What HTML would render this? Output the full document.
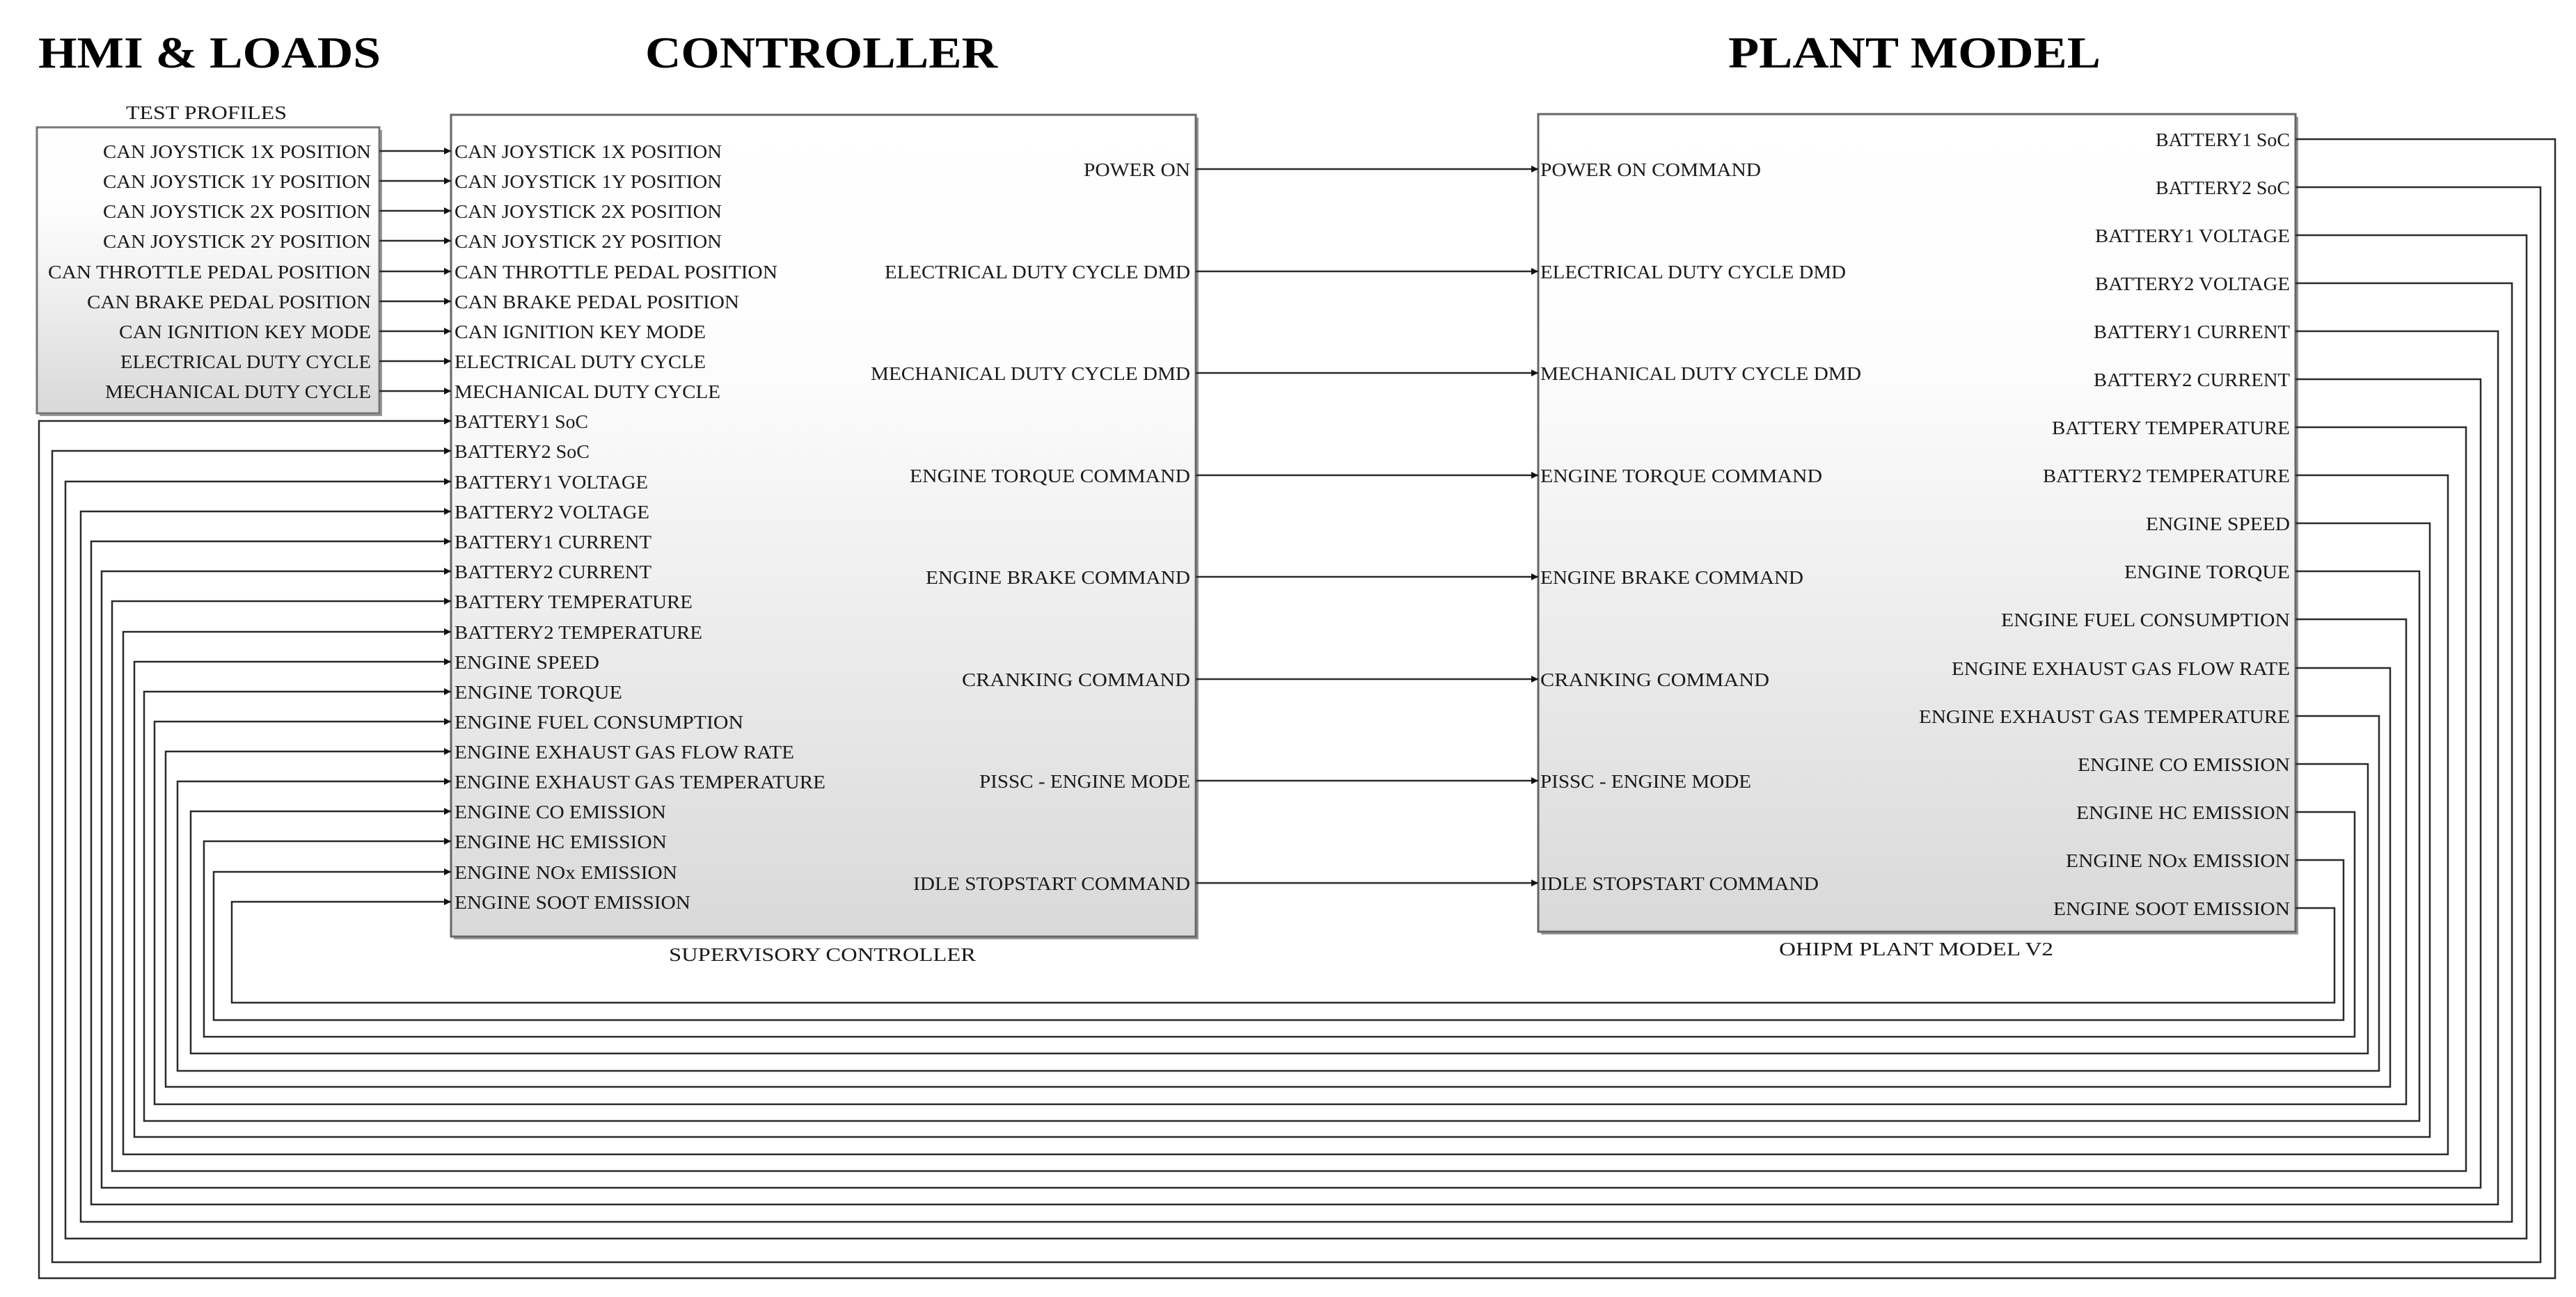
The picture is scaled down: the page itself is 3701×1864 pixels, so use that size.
<!DOCTYPE html>
<html><head><meta charset="utf-8"><style>
html,body{margin:0;padding:0;background:#fff;}
svg{display:block;}
text{font-family:"Liberation Serif",serif;fill:#1a1a1a;}
.l{font-size:27px;}
.t{font-size:64px;font-weight:bold;fill:#000;}
</style></head><body>
<svg width="3701" height="1864" viewBox="0 0 3701 1864" xmlns="http://www.w3.org/2000/svg">
<defs>
<linearGradient id="g" x1="0" y1="0" x2="0" y2="1">
<stop offset="0" stop-color="#ffffff"/><stop offset="0.3" stop-color="#fdfdfd"/><stop offset="1" stop-color="#d9d9d9"/>
</linearGradient>
<marker id="a" markerUnits="userSpaceOnUse" markerWidth="12" markerHeight="12" refX="10" refY="6" orient="auto">
<path d="M0,1 L10,6 L0,11 Z" fill="#111"/>
</marker>
</defs>

<!-- Titles -->
<text class="t" x="55" y="97" textLength="492" lengthAdjust="spacingAndGlyphs">HMI &amp; LOADS</text>
<text class="t" x="927" y="97" textLength="506" lengthAdjust="spacingAndGlyphs">CONTROLLER</text>
<text class="t" x="2483" y="97" textLength="535" lengthAdjust="spacingAndGlyphs">PLANT MODEL</text>

<!-- Blocks -->
<rect x="57" y="187" width="492" height="411" fill="#999"/>
<rect x="53" y="183" width="492" height="411" fill="url(#g)" stroke="#777" stroke-width="3"/>
<rect x="652" y="169" width="1070" height="1181" fill="#999"/>
<rect x="648" y="165" width="1070" height="1181" fill="url(#g)" stroke="#666" stroke-width="3"/>
<rect x="2214" y="168" width="1088" height="1175" fill="#999"/>
<rect x="2210" y="164" width="1088" height="1175" fill="url(#g)" stroke="#666" stroke-width="3"/>

<text class="l" x="181" y="171" textLength="231" lengthAdjust="spacingAndGlyphs">TEST PROFILES</text>
<text class="l" x="961" y="1381" textLength="441" lengthAdjust="spacingAndGlyphs">SUPERVISORY CONTROLLER</text>
<text class="l" x="2556" y="1373" textLength="394" lengthAdjust="spacingAndGlyphs">OHIPM PLANT MODEL V2</text>

<g stroke="#2a2a2a" stroke-width="2.5" fill="none">
<!-- HMI -> controller -->
<line x1="545" y1="217" x2="648" y2="217" marker-end="url(#a)"/>
<line x1="545" y1="260" x2="648" y2="260" marker-end="url(#a)"/>
<line x1="545" y1="303" x2="648" y2="303" marker-end="url(#a)"/>
<line x1="545" y1="346" x2="648" y2="346" marker-end="url(#a)"/>
<line x1="545" y1="390" x2="648" y2="390" marker-end="url(#a)"/>
<line x1="545" y1="433" x2="648" y2="433" marker-end="url(#a)"/>
<line x1="545" y1="476" x2="648" y2="476" marker-end="url(#a)"/>
<line x1="545" y1="519" x2="648" y2="519" marker-end="url(#a)"/>
<line x1="545" y1="562" x2="648" y2="562" marker-end="url(#a)"/>
<!-- controller -> plant -->
<line x1="1718" y1="243" x2="2210" y2="243" marker-end="url(#a)"/>
<line x1="1718" y1="390" x2="2210" y2="390" marker-end="url(#a)"/>
<line x1="1718" y1="536" x2="2210" y2="536" marker-end="url(#a)"/>
<line x1="1718" y1="683" x2="2210" y2="683" marker-end="url(#a)"/>
<line x1="1718" y1="829" x2="2210" y2="829" marker-end="url(#a)"/>
<line x1="1718" y1="976" x2="2210" y2="976" marker-end="url(#a)"/>
<line x1="1718" y1="1122" x2="2210" y2="1122" marker-end="url(#a)"/>
<line x1="1718" y1="1269" x2="2210" y2="1269" marker-end="url(#a)"/>
<!-- feedback -->
<polyline points="3298,200 3671,200 3671,1837 56,1837 56,605 648,605" marker-end="url(#a)"/>
<polyline points="3298,269 3650,269 3650,1814 75,1814 75,648 648,648" marker-end="url(#a)"/>
<polyline points="3298,338 3630,338 3630,1780 94,1780 94,692 648,692" marker-end="url(#a)"/>
<polyline points="3298,407 3609,407 3609,1756 116,1756 116,735 648,735" marker-end="url(#a)"/>
<polyline points="3298,476 3589,476 3589,1731 131,1731 131,778 648,778" marker-end="url(#a)"/>
<polyline points="3298,545 3564,545 3564,1707 146,1707 146,821 648,821" marker-end="url(#a)"/>
<polyline points="3298,614 3543,614 3543,1683 161,1683 161,864 648,864" marker-end="url(#a)"/>
<polyline points="3298,683 3517,683 3517,1659 177,1659 177,908 648,908" marker-end="url(#a)"/>
<polyline points="3298,752 3491,752 3491,1634 193,1634 193,951 648,951" marker-end="url(#a)"/>
<polyline points="3298,821 3476,821 3476,1611 207,1611 207,994 648,994" marker-end="url(#a)"/>
<polyline points="3298,890 3457,890 3457,1587 222,1587 222,1037 648,1037" marker-end="url(#a)"/>
<polyline points="3298,960 3434,960 3434,1562 238,1562 238,1080 648,1080" marker-end="url(#a)"/>
<polyline points="3298,1029 3418,1029 3418,1539 255,1539 255,1123 648,1123" marker-end="url(#a)"/>
<polyline points="3298,1098 3402,1098 3402,1514 274,1514 274,1166 648,1166" marker-end="url(#a)"/>
<polyline points="3298,1167 3383,1167 3383,1490 293,1490 293,1209 648,1209" marker-end="url(#a)"/>
<polyline points="3298,1236 3367,1236 3367,1466 307,1466 307,1253 648,1253" marker-end="url(#a)"/>
<polyline points="3298,1305 3354,1305 3354,1441 333,1441 333,1296 648,1296" marker-end="url(#a)"/>
</g>

<!-- HMI labels (right aligned) -->
<g class="l" text-anchor="end">
<text class="l" x="533" y="227" textLength="385" lengthAdjust="spacingAndGlyphs">CAN JOYSTICK 1X POSITION</text>
<text class="l" x="533" y="270" textLength="385" lengthAdjust="spacingAndGlyphs">CAN JOYSTICK 1Y POSITION</text>
<text class="l" x="533" y="313" textLength="385" lengthAdjust="spacingAndGlyphs">CAN JOYSTICK 2X POSITION</text>
<text class="l" x="533" y="356" textLength="385" lengthAdjust="spacingAndGlyphs">CAN JOYSTICK 2Y POSITION</text>
<text class="l" x="533" y="400" textLength="464" lengthAdjust="spacingAndGlyphs">CAN THROTTLE PEDAL POSITION</text>
<text class="l" x="533" y="443" textLength="408" lengthAdjust="spacingAndGlyphs">CAN BRAKE PEDAL POSITION</text>
<text class="l" x="533" y="486" textLength="362" lengthAdjust="spacingAndGlyphs">CAN IGNITION KEY MODE</text>
<text class="l" x="533" y="529" textLength="360" lengthAdjust="spacingAndGlyphs">ELECTRICAL DUTY CYCLE</text>
<text class="l" x="533" y="572" textLength="382" lengthAdjust="spacingAndGlyphs">MECHANICAL DUTY CYCLE</text>
</g>

<!-- Controller inputs -->
<g>
<text class="l" x="653" y="227" textLength="384" lengthAdjust="spacingAndGlyphs">CAN JOYSTICK 1X POSITION</text>
<text class="l" x="653" y="270" textLength="384" lengthAdjust="spacingAndGlyphs">CAN JOYSTICK 1Y POSITION</text>
<text class="l" x="653" y="313" textLength="384" lengthAdjust="spacingAndGlyphs">CAN JOYSTICK 2X POSITION</text>
<text class="l" x="653" y="356" textLength="384" lengthAdjust="spacingAndGlyphs">CAN JOYSTICK 2Y POSITION</text>
<text class="l" x="653" y="400" textLength="464" lengthAdjust="spacingAndGlyphs">CAN THROTTLE PEDAL POSITION</text>
<text class="l" x="653" y="443" textLength="409" lengthAdjust="spacingAndGlyphs">CAN BRAKE PEDAL POSITION</text>
<text class="l" x="653" y="486" textLength="361" lengthAdjust="spacingAndGlyphs">CAN IGNITION KEY MODE</text>
<text class="l" x="653" y="529" textLength="361" lengthAdjust="spacingAndGlyphs">ELECTRICAL DUTY CYCLE</text>
<text class="l" x="653" y="572" textLength="382" lengthAdjust="spacingAndGlyphs">MECHANICAL DUTY CYCLE</text>
<text class="l" x="653" y="615" textLength="192" lengthAdjust="spacingAndGlyphs">BATTERY1 SoC</text>
<text class="l" x="653" y="658" textLength="194" lengthAdjust="spacingAndGlyphs">BATTERY2 SoC</text>
<text class="l" x="653" y="702" textLength="278" lengthAdjust="spacingAndGlyphs">BATTERY1 VOLTAGE</text>
<text class="l" x="653" y="745" textLength="280" lengthAdjust="spacingAndGlyphs">BATTERY2 VOLTAGE</text>
<text class="l" x="653" y="788" textLength="283" lengthAdjust="spacingAndGlyphs">BATTERY1 CURRENT</text>
<text class="l" x="653" y="831" textLength="283" lengthAdjust="spacingAndGlyphs">BATTERY2 CURRENT</text>
<text class="l" x="653" y="874" textLength="342" lengthAdjust="spacingAndGlyphs">BATTERY TEMPERATURE</text>
<text class="l" x="653" y="918" textLength="356" lengthAdjust="spacingAndGlyphs">BATTERY2 TEMPERATURE</text>
<text class="l" x="653" y="961" textLength="208" lengthAdjust="spacingAndGlyphs">ENGINE SPEED</text>
<text class="l" x="653" y="1004" textLength="241" lengthAdjust="spacingAndGlyphs">ENGINE TORQUE</text>
<text class="l" x="653" y="1047" textLength="415" lengthAdjust="spacingAndGlyphs">ENGINE FUEL CONSUMPTION</text>
<text class="l" x="653" y="1090" textLength="488" lengthAdjust="spacingAndGlyphs">ENGINE EXHAUST GAS FLOW RATE</text>
<text class="l" x="653" y="1133" textLength="533" lengthAdjust="spacingAndGlyphs">ENGINE EXHAUST GAS TEMPERATURE</text>
<text class="l" x="653" y="1176" textLength="304" lengthAdjust="spacingAndGlyphs">ENGINE CO EMISSION</text>
<text class="l" x="653" y="1219" textLength="305" lengthAdjust="spacingAndGlyphs">ENGINE HC EMISSION</text>
<text class="l" x="653" y="1263" textLength="320" lengthAdjust="spacingAndGlyphs">ENGINE NOx EMISSION</text>
<text class="l" x="653" y="1306" textLength="339" lengthAdjust="spacingAndGlyphs">ENGINE SOOT EMISSION</text>
</g>

<!-- Controller outputs -->
<g text-anchor="end">
<text class="l" x="1710" y="253" textLength="153" lengthAdjust="spacingAndGlyphs">POWER ON</text>
<text class="l" x="1710" y="400" textLength="439" lengthAdjust="spacingAndGlyphs">ELECTRICAL DUTY CYCLE DMD</text>
<text class="l" x="1710" y="546" textLength="459" lengthAdjust="spacingAndGlyphs">MECHANICAL DUTY CYCLE DMD</text>
<text class="l" x="1710" y="693" textLength="403" lengthAdjust="spacingAndGlyphs">ENGINE TORQUE COMMAND</text>
<text class="l" x="1710" y="839" textLength="380" lengthAdjust="spacingAndGlyphs">ENGINE BRAKE COMMAND</text>
<text class="l" x="1710" y="986" textLength="328" lengthAdjust="spacingAndGlyphs">CRANKING COMMAND</text>
<text class="l" x="1710" y="1132" textLength="303" lengthAdjust="spacingAndGlyphs">PISSC - ENGINE MODE</text>
<text class="l" x="1710" y="1279" textLength="398" lengthAdjust="spacingAndGlyphs">IDLE STOPSTART COMMAND</text>
</g>

<!-- Plant inputs -->
<g>
<text class="l" x="2213" y="253" textLength="317" lengthAdjust="spacingAndGlyphs">POWER ON COMMAND</text>
<text class="l" x="2213" y="400" textLength="439" lengthAdjust="spacingAndGlyphs">ELECTRICAL DUTY CYCLE DMD</text>
<text class="l" x="2213" y="546" textLength="461" lengthAdjust="spacingAndGlyphs">MECHANICAL DUTY CYCLE DMD</text>
<text class="l" x="2213" y="693" textLength="405" lengthAdjust="spacingAndGlyphs">ENGINE TORQUE COMMAND</text>
<text class="l" x="2213" y="839" textLength="378" lengthAdjust="spacingAndGlyphs">ENGINE BRAKE COMMAND</text>
<text class="l" x="2213" y="986" textLength="329" lengthAdjust="spacingAndGlyphs">CRANKING COMMAND</text>
<text class="l" x="2213" y="1132" textLength="303" lengthAdjust="spacingAndGlyphs">PISSC - ENGINE MODE</text>
<text class="l" x="2213" y="1279" textLength="400" lengthAdjust="spacingAndGlyphs">IDLE STOPSTART COMMAND</text>
</g>

<!-- Plant outputs -->
<g text-anchor="end">
<text class="l" x="3290" y="210" textLength="193" lengthAdjust="spacingAndGlyphs">BATTERY1 SoC</text>
<text class="l" x="3290" y="279" textLength="193" lengthAdjust="spacingAndGlyphs">BATTERY2 SoC</text>
<text class="l" x="3290" y="348" textLength="280" lengthAdjust="spacingAndGlyphs">BATTERY1 VOLTAGE</text>
<text class="l" x="3290" y="417" textLength="280" lengthAdjust="spacingAndGlyphs">BATTERY2 VOLTAGE</text>
<text class="l" x="3290" y="486" textLength="282" lengthAdjust="spacingAndGlyphs">BATTERY1 CURRENT</text>
<text class="l" x="3290" y="555" textLength="282" lengthAdjust="spacingAndGlyphs">BATTERY2 CURRENT</text>
<text class="l" x="3290" y="624" textLength="342" lengthAdjust="spacingAndGlyphs">BATTERY TEMPERATURE</text>
<text class="l" x="3290" y="693" textLength="355" lengthAdjust="spacingAndGlyphs">BATTERY2 TEMPERATURE</text>
<text class="l" x="3290" y="762" textLength="207" lengthAdjust="spacingAndGlyphs">ENGINE SPEED</text>
<text class="l" x="3290" y="831" textLength="238" lengthAdjust="spacingAndGlyphs">ENGINE TORQUE</text>
<text class="l" x="3290" y="900" textLength="415" lengthAdjust="spacingAndGlyphs">ENGINE FUEL CONSUMPTION</text>
<text class="l" x="3290" y="970" textLength="486" lengthAdjust="spacingAndGlyphs">ENGINE EXHAUST GAS FLOW RATE</text>
<text class="l" x="3290" y="1039" textLength="533" lengthAdjust="spacingAndGlyphs">ENGINE EXHAUST GAS TEMPERATURE</text>
<text class="l" x="3290" y="1108" textLength="305" lengthAdjust="spacingAndGlyphs">ENGINE CO EMISSION</text>
<text class="l" x="3290" y="1177" textLength="307" lengthAdjust="spacingAndGlyphs">ENGINE HC EMISSION</text>
<text class="l" x="3290" y="1246" textLength="322" lengthAdjust="spacingAndGlyphs">ENGINE NOx EMISSION</text>
<text class="l" x="3290" y="1315" textLength="340" lengthAdjust="spacingAndGlyphs">ENGINE SOOT EMISSION</text>
</g>
</svg>
</body></html>
